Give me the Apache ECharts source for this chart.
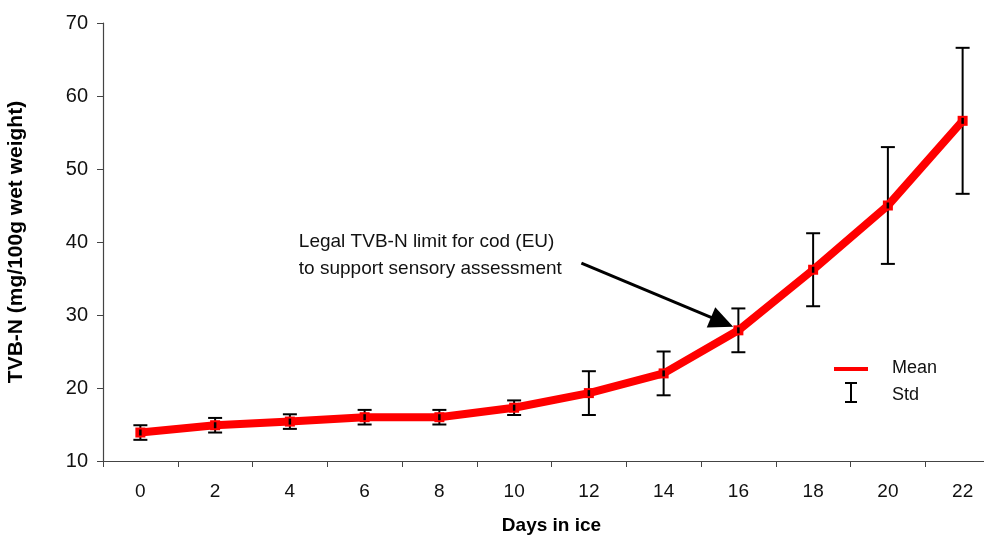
<!DOCTYPE html>
<html>
<head>
<meta charset="utf-8">
<script src="https://cdn.jsdelivr.net/npm/echarts@6/dist/echarts.min.js"></script>
<style>
html,body{margin:0;padding:0;background:#fff;}
#chart{width:984px;height:536px;}
</style>
</head>
<body>
<div id="chart"></div>
<script>
// ---- data ----
const days = ['0','2','4','6','8','10','12','14','16','18','20','22'];
const meanTVBN = [13.9, 14.9, 15.4, 16.0, 16.0, 17.3, 19.3, 22.0, 27.9, 36.2, 45.0, 56.6];
const stdTVBN  = [1.0, 1.0, 1.0, 1.0, 1.0, 1.0, 3.0, 3.0, 3.0, 5.0, 8.0, 10.0];
const yMin = 10, yMax = 70, yStep = 10;
const xTitle = 'Days in ice';
const yTitle = 'TVB-N (mg/100g wet weight)';
const annotationLines = ['Legal TVB-N limit for cod (EU)', 'to support sensory assessment'];
// annotation anchors in data coordinates (category index, value)
const annotationTextAt = [2.12, 38.2];
const arrowFrom = [5.9, 37.1];
const arrowTo = [7.93, 28.4];

const FONT = '"Liberation Sans", Arial, sans-serif';
const chart = echarts.init(document.getElementById('chart'), null, {renderer: 'canvas'});

const errData = days.map((d, i) => [i, meanTVBN[i] - stdTVBN[i], meanTVBN[i] + stdTVBN[i]]);
const dashData = days.map((d, i) => [i, meanTVBN[i]]);

const option = {
  animation: false,
  backgroundColor: '#ffffff',
  grid: {left: 103, top: 23, width: 897, height: 438, containLabel: false, outerBoundsMode: 'none'},
  xAxis: {
    type: 'category',
    data: days,
    boundaryGap: true,
    name: xTitle,
    nameLocation: 'middle',
    nameGap: 55,
    nameTextStyle: {fontFamily: FONT, fontSize: 19, fontWeight: 'bold', color: '#000'},
    axisLine: {lineStyle: {color: '#444', width: 1.2}},
    axisTick: {show: true, length: 6, lineStyle: {color: '#444'}},
    axisLabel: {fontFamily: FONT, fontSize: 19, color: '#111', margin: 21},
    splitLine: {show: false}
  },
  yAxis: {
    type: 'value',
    min: yMin, max: yMax, interval: yStep,
    name: yTitle,
    nameLocation: 'middle',
    nameGap: 76,
    nameRotate: 90,
    nameTextStyle: {fontFamily: FONT, fontSize: 21, fontWeight: 'bold', color: '#000'},
    axisLine: {show: true, lineStyle: {color: '#444', width: 1.2}},
    axisTick: {show: true, length: 6, lineStyle: {color: '#444'}},
    axisLabel: {fontFamily: FONT, fontSize: 20, color: '#111', margin: 15},
    splitLine: {show: false}
  },
  series: [
    {
      name: 'Std',
      type: 'custom',
      z: 1,
      data: errData,
      renderItem: function (params, api) {
        const x = api.value(0);
        const lo = api.coord([x, api.value(1)]);
        const hi = api.coord([x, api.value(2)]);
        const cap = 7;
        const st = {stroke: '#000', lineWidth: 2};
        return {
          type: 'group',
          children: [
            {type: 'line', shape: {x1: hi[0], y1: hi[1], x2: lo[0], y2: lo[1]}, style: st},
            {type: 'line', shape: {x1: hi[0]-cap, y1: hi[1], x2: hi[0]+cap, y2: hi[1]}, style: st},
            {type: 'line', shape: {x1: lo[0]-cap, y1: lo[1], x2: lo[0]+cap, y2: lo[1]}, style: st}
          ]
        };
      }
    },
    {
      name: 'Mean',
      type: 'line',
      z: 2,
      data: meanTVBN,
      symbol: 'rect',
      symbolSize: 10,
      itemStyle: {color: '#ff0000'},
      lineStyle: {color: '#ff0000', width: 8},
      smooth: false
    },
    {
      name: 'dash',
      type: 'custom',
      z: 3,
      data: dashData,
      renderItem: function (params, api) {
        const p = api.coord([api.value(0), api.value(1)]);
        return {type: 'line', shape: {x1: p[0], y1: p[1]-3, x2: p[0], y2: p[1]+3}, style: {stroke: '#000', lineWidth: 2.5}};
      }
    }
  ]
};
chart.setOption(option);

// helpers to map fractional category positions through the axis
function toPx(idx, val) {
  const a = chart.convertToPixel({gridIndex: 0}, [0, val]);
  const b = chart.convertToPixel({gridIndex: 0}, [1, val]);
  return [a[0] + (b[0] - a[0]) * idx, a[1]];
}
const tP = toPx(annotationTextAt[0], annotationTextAt[1]);
const f = toPx(arrowFrom[0], arrowFrom[1]);
const t = toPx(arrowTo[0], arrowTo[1]);
const ang = Math.atan2(t[1]-f[1], t[0]-f[0]);
const headLen = 24, headW = 11;
const base = [t[0] - headLen*Math.cos(ang), t[1] - headLen*Math.sin(ang)];
const nx = -Math.sin(ang), ny = Math.cos(ang);

chart.setOption({
  graphic: [
    {type: 'text', left: tP[0], top: tP[1] - 27, style: {text: annotationLines.join('\n'), font: '19px ' + FONT, fill: '#111', lineHeight: 27}},
    {type: 'line', shape: {x1: f[0], y1: f[1], x2: base[0] + 2*Math.cos(ang), y2: base[1] + 2*Math.sin(ang)}, style: {stroke: '#000', lineWidth: 3}},
    {type: 'polygon', shape: {points: [[t[0], t[1]], [base[0] + nx*headW, base[1] + ny*headW], [base[0] - nx*headW, base[1] - ny*headW]]}, style: {fill: '#000'}},
    // legend
    {type: 'line', shape: {x1: 834, y1: 369, x2: 868, y2: 369}, style: {stroke: '#ff0000', lineWidth: 4}},
    {type: 'text', left: 892, top: 359, style: {text: 'Mean', font: '18px ' + FONT, fill: '#111'}},
    {type: 'line', shape: {x1: 851, y1: 383, x2: 851, y2: 402}, style: {stroke: '#000', lineWidth: 2}},
    {type: 'line', shape: {x1: 845, y1: 383, x2: 857, y2: 383}, style: {stroke: '#000', lineWidth: 2}},
    {type: 'line', shape: {x1: 845, y1: 402, x2: 857, y2: 402}, style: {stroke: '#000', lineWidth: 2}},
    {type: 'text', left: 892, top: 386, style: {text: 'Std', font: '18px ' + FONT, fill: '#111'}}
  ]
});
</script>
</body>
</html>
